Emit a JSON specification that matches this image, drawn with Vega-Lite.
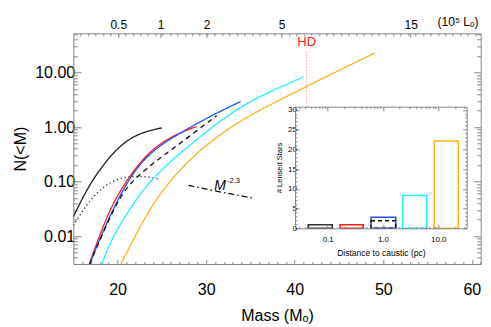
{
  "$schema": "https://vega.github.io/schema/vega-lite/v6.json",
  "width": 407.4,
  "height": 230.7,
  "autosize": {"type": "none"},
  "padding": {"left": 73.3, "top": 33.3, "right": 10.3, "bottom": 63},
  "background": "white",
  "config": {
    "view": {"stroke": null},
    "font": "Liberation Sans",
    "axis": {"grid": false, "domainColor": "#888888", "tickColor": "#888888", "labelColor": "#000000", "titleColor": "#000000", "titleFontWeight": "normal", "labelFlush": false, "labelOverlap": false, "labelBound": false, "labelFont": "Liberation Sans", "titleFont": "Liberation Sans", "domainWidth": 1, "tickWidth": 1}
  },
  "datasets": {
    "curves": [
      {"s": "solid", "m": 15.0, "n": 0.0227}, {"s": "solid", "m": 16.16, "n": 0.054}, {"s": "solid", "m": 17.11, "n": 0.102}, {"s": "solid", "m": 18.05, "n": 0.168}, {"s": "solid", "m": 19.18, "n": 0.294}, {"s": "solid", "m": 20.68, "n": 0.517}, {"s": "solid", "m": 22.57, "n": 0.789}, {"s": "solid", "m": 25.0, "n": 0.97},
      {"s": "dotted", "m": 15.0, "n": 0.0158}, {"s": "dotted", "m": 15.79, "n": 0.025}, {"s": "dotted", "m": 16.55, "n": 0.038}, {"s": "dotted", "m": 17.68, "n": 0.0625}, {"s": "dotted", "m": 18.81, "n": 0.089}, {"s": "dotted", "m": 20.31, "n": 0.118}, {"s": "dotted", "m": 21.81, "n": 0.126}, {"s": "dotted", "m": 23.33, "n": 0.123}, {"s": "dotted", "m": 24.83, "n": 0.11},
      {"s": "red", "m": 16.81, "n": 0.00307}, {"s": "red", "m": 17.64, "n": 0.0074}, {"s": "red", "m": 19.14, "n": 0.0316}, {"s": "red", "m": 20.89, "n": 0.1}, {"s": "red", "m": 23.1, "n": 0.295}, {"s": "red", "m": 24.98, "n": 0.52}, {"s": "red", "m": 26.86, "n": 0.77}, {"s": "red", "m": 28.93, "n": 1.02},
      {"s": "blue", "m": 16.85, "n": 0.00307}, {"s": "blue", "m": 18.01, "n": 0.0091}, {"s": "blue", "m": 19.52, "n": 0.032}, {"s": "blue", "m": 21.4, "n": 0.123}, {"s": "blue", "m": 23.29, "n": 0.29}, {"s": "blue", "m": 25.16, "n": 0.506}, {"s": "blue", "m": 27.05, "n": 0.773}, {"s": "blue", "m": 30.06, "n": 1.455}, {"s": "blue", "m": 32.32, "n": 2.22}, {"s": "blue", "m": 33.9, "n": 2.94},
      {"s": "dashed", "m": 16.85, "n": 0.00307}, {"s": "dashed", "m": 19.82, "n": 0.041}, {"s": "dashed", "m": 21.4, "n": 0.093}, {"s": "dashed", "m": 23.29, "n": 0.175}, {"s": "dashed", "m": 25.16, "n": 0.3}, {"s": "dashed", "m": 27.05, "n": 0.5}, {"s": "dashed", "m": 31.19, "n": 1.62},
      {"s": "cyan", "m": 18.21, "n": 0.00307}, {"s": "cyan", "m": 19.4, "n": 0.0095}, {"s": "cyan", "m": 21.3, "n": 0.03}, {"s": "cyan", "m": 23.2, "n": 0.083}, {"s": "cyan", "m": 25.16, "n": 0.176}, {"s": "cyan", "m": 27.05, "n": 0.332}, {"s": "cyan", "m": 29.0, "n": 0.6}, {"s": "cyan", "m": 31.0, "n": 1.1}, {"s": "cyan", "m": 33.8, "n": 2.3}, {"s": "cyan", "m": 36.08, "n": 3.63}, {"s": "cyan", "m": 38.34, "n": 5.4}, {"s": "cyan", "m": 40.97, "n": 8.25},
      {"s": "orange", "m": 20.39, "n": 0.00307}, {"s": "orange", "m": 23.47, "n": 0.03}, {"s": "orange", "m": 25.55, "n": 0.085}, {"s": "orange", "m": 27.05, "n": 0.165}, {"s": "orange", "m": 29.31, "n": 0.38}, {"s": "orange", "m": 32.32, "n": 0.89}, {"s": "orange", "m": 33.82, "n": 1.26}, {"s": "orange", "m": 36.08, "n": 2.07}, {"s": "orange", "m": 41.35, "n": 5.55}, {"s": "orange", "m": 45.1, "n": 11.2}, {"s": "orange", "m": 49.06, "n": 22.8},
      {"s": "powerlaw", "m": 28.0, "n": 0.085}, {"s": "powerlaw", "m": 30.5, "n": 0.0698}, {"s": "powerlaw", "m": 33.0, "n": 0.0583}, {"s": "powerlaw", "m": 35.15, "n": 0.0503}
    ],
    "bars": [
      {"grp": "solid", "lo": 0.0446, "hi": 0.121, "k": 0.9},
      {"grp": "red", "lo": 0.167, "hi": 0.44, "k": 0.9},
      {"grp": "blue", "lo": 0.607, "hi": 1.7, "k": 2.8},
      {"grp": "cyan", "lo": 2.27, "hi": 6.17, "k": 8.3},
      {"grp": "orange", "lo": 8.47, "hi": 23.0, "k": 22.1}
    ],
    "dash": [{"lo": 0.607, "hi": 1.7, "k": 1.9}],
    "main": [{"v": 30, "n": 1}],
    "inset": [{"d": 1, "c": 5}],
    "star": [{"name": "HD", "m": 41.35}]
  },
  "layer": [
    {
      "data": {"name": "curves"},
      "mark": {"type": "line", "clip": true, "strokeWidth": 1.3, "interpolate": "basis"},
      "encoding": {
        "x": {"field": "m", "type": "quantitative", "scale": {"domain": [15, 61], "nice": false, "zero": false},
              "axis": {"orient": "bottom", "values": [20, 30, 40, 50, 60], "tickSize": -4.5, "labelFontSize": 16, "labelPadding": 22, "title": "Mass (Mₒ)", "titleFontSize": 16, "titlePadding": 10}},
        "y": {"field": "n", "type": "quantitative", "scale": {"type": "log", "domain": [0.00307, 52.5], "nice": false},
              "axis": {"orient": "left", "values": [0.01, 0.1, 1, 10], "format": ".2f", "tickSize": -8, "labelFontSize": 16, "labelPadding": 6.6, "title": "N(<M)", "titleFontSize": 16, "titlePadding": 6}},
        "color": {"field": "s", "type": "nominal", "legend": null,
                  "scale": {"domain": ["solid", "dotted", "red", "blue", "dashed", "cyan", "orange", "powerlaw"], "range": ["#222222", "#222222", "#ff2020", "#2050f0", "#111111", "#20f0ff", "#ffb420", "#111111"]}},
        "strokeDash": {"field": "s", "type": "nominal", "legend": null,
                  "scale": {"domain": ["solid", "dotted", "red", "blue", "dashed", "cyan", "orange", "powerlaw"], "range": [[1, 0], [1.2, 2.8], [1, 0], [1, 0], [5, 4], [1, 0], [1, 0], [6, 3, 1.5, 3]]}}
      }
    },
    {
      "data": {"name": "main"},
      "mark": {"type": "point", "opacity": 0},
      "encoding": {
        "x": {"field": "v", "type": "quantitative", "scale": {"domain": [15, 61], "nice": false, "zero": false},
              "axis": {"orient": "bottom", "values": [16, 17, 18, 19, 21, 22, 23, 24, 25, 26, 27, 28, 29, 31, 32, 33, 34, 35, 36, 37, 38, 39, 41, 42, 43, 44, 45, 46, 47, 48, 49, 51, 52, 53, 54, 55, 56, 57, 58, 59, 61], "tickSize": -2.5, "labels": false, "domain": false, "title": null}},
        "y": {"field": "n", "type": "quantitative", "scale": {"type": "log", "domain": [0.00307, 52.5], "nice": false},
              "axis": {"orient": "left", "values": [0.004, 0.005, 0.006, 0.007, 0.008, 0.009, 0.02, 0.03, 0.04, 0.05, 0.06, 0.07, 0.08, 0.09, 0.2, 0.3, 0.4, 0.5, 0.6, 0.7, 0.8, 0.9, 2, 3, 4, 5, 6, 7, 8, 9, 20, 30, 40, 50], "tickSize": -4, "labels": false, "domain": false, "title": null}}
      }
    },
    {
      "data": {"name": "main"},
      "mark": {"type": "point", "opacity": 0},
      "encoding": {
        "x": {"field": "v", "type": "quantitative", "scale": {"domain": [15, 61], "nice": false, "zero": false},
              "axis": {"orient": "top", "values": [15.84, 16.68, 17.52, 18.36, 19.2, 20.04, 20.88, 21.72, 22.56, 23.4, 24.24, 25.08, 25.92, 26.76, 27.6, 28.44, 29.28, 30.12, 30.96, 31.8, 32.64, 33.48, 34.32, 35.16, 36.0, 36.84, 37.68, 38.52, 39.36, 40.2, 41.04, 41.88, 42.72, 43.56, 44.4, 45.24, 46.08, 46.92, 47.76, 48.6, 49.44, 50.28, 51.12, 51.96, 52.8, 53.64, 54.48, 55.32, 56.16, 57.0, 57.84, 58.68, 59.52, 60.36], "tickSize": -2.5, "labels": false, "domain": true, "title": null}},
        "y": {"field": "n", "type": "quantitative", "scale": {"type": "log", "domain": [0.00307, 52.5], "nice": false},
              "axis": {"orient": "right", "values": [0.01, 0.1, 1, 10], "tickSize": -7, "labels": false, "domain": true, "title": null}}
      }
    },
    {
      "data": {"name": "main"},
      "mark": {"type": "point", "opacity": 0},
      "encoding": {
        "x": {"field": "v", "type": "quantitative", "scale": {"domain": [15, 61], "nice": false, "zero": false},
              "axis": {"orient": "top", "values": [20.08, 24.87, 30.06, 38.53, 53.1], "labelExpr": "datum.value < 22 ? '0.5' : datum.value < 27 ? '1' : datum.value < 34 ? '2' : datum.value < 45 ? '5' : '15'", "tickSize": -4, "labelFontSize": 12, "labelPadding": 6, "domain": false, "title": null}},
        "y": {"field": "n", "type": "quantitative", "scale": {"type": "log", "domain": [0.00307, 52.5], "nice": false},
              "axis": {"orient": "right", "values": [0.004, 0.005, 0.006, 0.007, 0.008, 0.009, 0.02, 0.03, 0.04, 0.05, 0.06, 0.07, 0.08, 0.09, 0.2, 0.3, 0.4, 0.5, 0.6, 0.7, 0.8, 0.9, 2, 3, 4, 5, 6, 7, 8, 9, 20, 30, 40, 50], "tickSize": -4, "labels": false, "domain": false, "title": null}}
      }
    },
    {
      "data": {"name": "star"},
      "mark": {"type": "rule", "color": "#ff6060", "strokeDash": [1, 2], "strokeWidth": 1},
      "encoding": {
        "x": {"field": "m", "type": "quantitative", "scale": {"domain": [15, 61], "nice": false, "zero": false}, "axis": null},
        "y": {"datum": 2.38, "type": "quantitative", "scale": {"type": "log", "domain": [0.00307, 52.5], "nice": false}, "axis": null},
        "y2": {"datum": 26.2}
      }
    },
    {
      "data": {"name": "star"},
      "mark": {"type": "text", "color": "#ff2020", "fontSize": 13, "baseline": "alphabetic", "align": "center"},
      "encoding": {
        "x": {"field": "m", "type": "quantitative", "scale": {"domain": [15, 61], "nice": false, "zero": false}, "axis": null},
        "y": {"datum": 30.1, "type": "quantitative", "scale": {"type": "log", "domain": [0.00307, 52.5], "nice": false}, "axis": null},
        "text": {"field": "name"}
      }
    },
    {
      "data": {"name": "main"},
      "mark": {"type": "text", "color": "#000000", "fontSize": 14, "fontStyle": "italic", "baseline": "alphabetic", "align": "center", "text": "M"},
      "encoding": {
        "x": {"datum": 31.565, "type": "quantitative", "scale": {"domain": [15, 61], "nice": false, "zero": false}, "axis": null},
        "y": {"datum": 0.0703, "type": "quantitative", "scale": {"type": "log", "domain": [0.00307, 52.5], "nice": false}, "axis": null}
      }
    },
    {
      "data": {"name": "main"},
      "mark": {"type": "text", "color": "#000000", "fontSize": 7.5, "baseline": "alphabetic", "align": "left", "text": "-2.3"},
      "encoding": {
        "x": {"datum": 32.355, "type": "quantitative", "scale": {"domain": [15, 61], "nice": false, "zero": false}, "axis": null},
        "y": {"datum": 0.0957, "type": "quantitative", "scale": {"type": "log", "domain": [0.00307, 52.5], "nice": false}, "axis": null}
      }
    },
    {
      "data": {"name": "main"},
      "mark": {"type": "text", "color": "#000000", "fontSize": 12, "baseline": "alphabetic", "align": "center", "text": "(10⁵ Lₒ)"},
      "encoding": {
        "x": {"datum": 58.44, "type": "quantitative", "scale": {"domain": [15, 61], "nice": false, "zero": false}, "axis": null},
        "y": {"datum": 70.1, "type": "quantitative", "scale": {"type": "log", "domain": [0.00307, 52.5], "nice": false}, "axis": null}
      }
    },
    {
      "data": {"name": "inset"},
      "mark": {"type": "rect", "fill": "white", "strokeWidth": 0},
      "encoding": {
        "x": {"datum": 0.0256, "type": "quantitative", "scale": {"type": "log", "domain": [0.0256, 32.7], "range": [221.7, 393.4], "nice": false},
              "axis": {"orient": "top", "offset": -73.4, "values": [0.1, 1, 10], "tickSize": -4, "labels": false, "domain": true, "title": null, "zindex": 1}},
        "x2": {"datum": 32.7},
        "y": {"datum": 0, "type": "quantitative", "scale": {"domain": [0, 30.8], "range": [195, 73.4], "nice": false, "zero": false},
              "axis": {"orient": "right", "offset": -14, "values": [0, 5, 10, 15, 20, 25, 30], "tickSize": -4, "labels": false, "domain": true, "title": null, "zindex": 1}},
        "y2": {"datum": 30.8}
      }
    },
    {
      "data": {"name": "bars"},
      "mark": {"type": "rect", "filled": false, "strokeWidth": 1.6},
      "encoding": {
        "x": {"field": "lo", "type": "quantitative", "scale": {"type": "log", "domain": [0.0256, 32.7], "range": [221.7, 393.4], "nice": false},
              "axis": {"orient": "bottom", "offset": -35.7, "values": [0.1, 1, 10], "format": ".1f", "tickSize": -4, "labelFontSize": 8, "labelPadding": 11, "domain": true, "title": "Distance to caustic (pc)", "titleFontSize": 8.5, "titlePadding": 5, "zindex": 1}},
        "x2": {"field": "hi"},
        "y": {"field": "k", "type": "quantitative", "scale": {"domain": [0, 30.8], "range": [195, 73.4], "nice": false, "zero": false},
              "axis": {"orient": "left", "offset": -221.7, "values": [0, 5, 10, 15, 20, 25, 30], "tickSize": -4, "labelFontSize": 8, "labelPadding": 2.5, "domain": true, "title": "# Lensed Stars", "titleFontSize": 7.5, "titlePadding": 4, "zindex": 1}},
        "y2": {"datum": 0},
        "stroke": {"field": "grp", "type": "nominal", "legend": null,
                   "scale": {"domain": ["solid", "red", "blue", "cyan", "orange"], "range": ["#333333", "#ff2020", "#2050f0", "#20f0ff", "#ffb420"]}}
      }
    },
    {
      "data": {"name": "dash"},
      "mark": {"type": "rect", "filled": false, "stroke": "#111111", "strokeDash": [4, 3], "strokeWidth": 1.5},
      "encoding": {
        "x": {"field": "lo", "type": "quantitative", "scale": {"type": "log", "domain": [0.0256, 32.7], "range": [221.7, 393.4], "nice": false},
              "axis": {"orient": "bottom", "offset": -35.7, "values": [0.03, 0.04, 0.05, 0.06, 0.07, 0.08, 0.09, 0.2, 0.3, 0.4, 0.5, 0.6, 0.7, 0.8, 0.9, 2, 3, 4, 5, 6, 7, 8, 9, 20, 30], "tickSize": -2, "labels": false, "domain": false, "title": null, "zindex": 1}},
        "x2": {"field": "hi"},
        "y": {"field": "k", "type": "quantitative", "scale": {"domain": [0, 30.8], "range": [195, 73.4], "nice": false, "zero": false},
              "axis": {"orient": "left", "offset": -221.7, "values": [1, 2, 3, 4, 6, 7, 8, 9, 11, 12, 13, 14, 16, 17, 18, 19, 21, 22, 23, 24, 26, 27, 28, 29], "tickSize": -2, "labels": false, "domain": false, "title": null, "zindex": 1}},
        "y2": {"datum": 0}
      }
    },
    {
      "data": {"name": "inset"},
      "mark": {"type": "point", "opacity": 0},
      "encoding": {
        "x": {"field": "d", "type": "quantitative", "scale": {"type": "log", "domain": [0.0256, 32.7], "range": [221.7, 393.4], "nice": false},
              "axis": {"orient": "top", "offset": -73.4, "values": [0.03, 0.04, 0.05, 0.06, 0.07, 0.08, 0.09, 0.2, 0.3, 0.4, 0.5, 0.6, 0.7, 0.8, 0.9, 2, 3, 4, 5, 6, 7, 8, 9, 20, 30], "tickSize": -2, "labels": false, "domain": false, "title": null, "zindex": 1}},
        "y": {"field": "c", "type": "quantitative", "scale": {"domain": [0, 30.8], "range": [195, 73.4], "nice": false, "zero": false},
              "axis": {"orient": "right", "offset": -14, "values": [1, 2, 3, 4, 6, 7, 8, 9, 11, 12, 13, 14, 16, 17, 18, 19, 21, 22, 23, 24, 26, 27, 28, 29], "tickSize": -2, "labels": false, "domain": false, "title": null, "zindex": 1}}
      }
    }
  ],
  "resolve": {"scale": {"x": "independent", "y": "independent"}, "axis": {"x": "independent", "y": "independent"}}
}
